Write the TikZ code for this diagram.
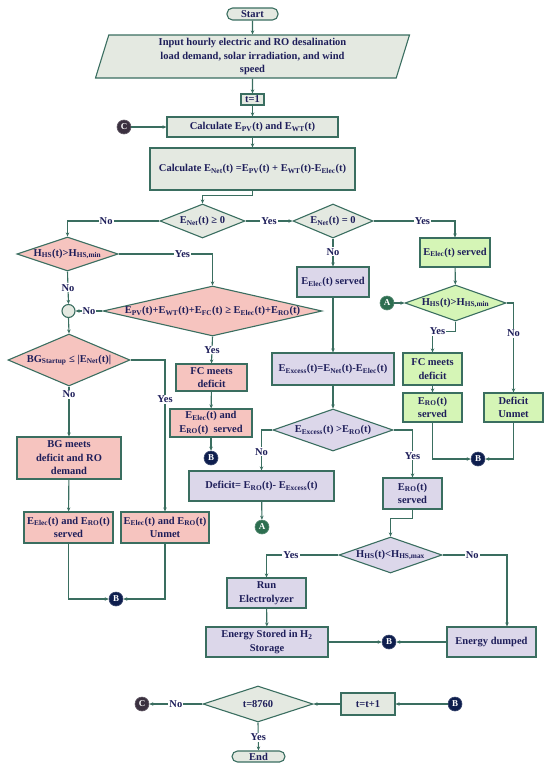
\documentclass[tikz,border=0pt]{standalone}
\usepackage{fontspec}
\setmainfont{Liberation Serif}
\usetikzlibrary{shapes.geometric,shapes.misc,arrows.meta}
\definecolor{ln}{HTML}{3A6E60}
\definecolor{txt}{HTML}{1E1E5A}
\definecolor{fgray}{HTML}{E4E9E1}
\definecolor{fpink}{HTML}{F6C4BF}
\definecolor{flav}{HTML}{DCD7EA}
\definecolor{fgreen}{HTML}{D5F5B6}
\definecolor{cB}{HTML}{0E1E4E}
\definecolor{cA}{HTML}{2D6E50}
\definecolor{cC}{HTML}{3B3140}
\newcommand\lo[1]{\textsubscript{#1}}
\newcommand\zb[1]{\makebox[0pt]{#1}}
\begin{document}
\begin{tikzpicture}[x=1pt,y=-1pt,
  every node/.style={font=\fontsize{10.5}{13.5}\selectfont\bfseries, text=txt},
  wh/.style 2 args={minimum width=#1pt, minimum height=#2pt},
  box/.style={draw=ln, line width=1.1pt, rectangle, align=center, inner sep=1pt},
  dia/.style={diamond, draw=ln, line width=1.1pt, inner sep=0pt},
  term/.style={draw=ln, line width=1.1pt, rounded corners=5.5pt, inner sep=0pt, fill=fgray},
  conn/.style={circle, fill=#1, draw=#1!80!white, line width=0.6pt, text=white, inner sep=0pt, minimum size=14pt, font=\fontsize{9}{9}\selectfont\bfseries},
  lab/.style={fill=white, inner sep=1pt},
  ar/.style={draw=ln, line width=1.1pt, -{Stealth[length=4pt,width=3.5pt]}},
  li/.style={draw=ln, line width=1.1pt}
]
\useasboundingbox (0,0) rectangle (550,771);
% top
\node[term, wh={51}{12}] (start) at (252.5,14) {Start};
\node[trapezium, trapezium left angle=70, trapezium right angle=110, trapezium stretches body, draw=ln, line width=1.1pt, fill=fgray, wh={314}{43}, align=center, inner sep=0pt] (inp) at (252.5,56.5) {Input hourly electric and RO desalination\\load demand, solar irradiation, and wind\\speed};
\node[box, fill=fgray, wh={23}{11}] (t1) at (252.5,99.5) {t=1};
\node[box, fill=fgray, wh={171}{20}] (calc1) at (252.5,127) {Calculate E\lo{PV}(t) and E\lo{WT}(t)};
\node[box, fill=fgray, wh={205}{42}] (calc2) at (252.5,169) {Calculate E\lo{Net}(t) =E\lo{PV}(t) + E\lo{WT}(t)-E\lo{Elec}(t)};
\node[conn=cC] (C1) at (124,127) {C};
% decisions row
\node[dia, fill=fgray, wh={85}{34}] (d1) at (202.5,221) {\zb{E\lo{Net}(t) ≥ 0}};
\node[dia, fill=fgray, wh={80}{34}] (d2) at (333,221) {\zb{E\lo{Net}(t) = 0}};
% left pink
\node[dia, fill=fpink, wh={101}{34}] (d3) at (67.5,254) {\zb{H\lo{HS}(t)>H\lo{HS,min}}};
\node[dia, fill=fpink, wh={219}{50}] (d4) at (212.5,311) {\zb{E\lo{PV}(t)+E\lo{WT}(t)+E\lo{FC}(t) ≥ E\lo{Elec}(t)+E\lo{RO}(t)}};
\node[circle, draw=ln, line width=1.1pt, fill=fgray, minimum size=13pt, inner sep=0pt] (jn) at (68.5,311) {};
\node[dia, fill=fpink, wh={122}{52}] (d5) at (69,360) {\zb{BG\lo{Startup} ≤ |E\lo{Net}(t)|}};
\node[box, fill=fpink, wh={104}{42}] (bg) at (69,458) {BG meets\\deficit and RO\\demand};
\node[box, fill=fpink, wh={89}{31}] (srv) at (68.5,527.5) {E\lo{Elec}(t) and E\lo{RO}(t)\\served};
\node[box, fill=fpink, wh={88}{31}] (unm) at (165,527.5) {E\lo{Elec}(t) and E\lo{RO}(t)\\Unmet};
\node[conn=cB] (B1) at (116,599) {B};
\node[box, fill=fpink, wh={71}{27}] (fc1) at (211.5,377.5) {FC meets\\deficit};
\node[box, fill=fpink, wh={82}{28}] (srv2) at (211,423) {E\lo{Elec}(t) and\\E\lo{RO}(t)~ served};
\node[conn=cB] (B2) at (211,458) {B};
% middle lavender
\node[box, fill=flav, wh={72}{30}] (el) at (333,282) {E\lo{Elec}(t) served};
\node[box, fill=flav, wh={122}{32}] (ex) at (333,369) {E\lo{Excess}(t)=E\lo{Net}(t)-E\lo{Elec}(t)};
\node[dia, fill=flav, wh={120}{42}] (d6) at (333,430) {\zb{E\lo{Excess}(t) >E\lo{RO}(t)}};
\node[box, fill=flav, wh={145}{30}] (def) at (261.5,486) {Deficit= E\lo{RO}(t)- E\lo{Excess}(t)};
\node[conn=cA] (A1) at (262,527) {A};
\node[box, fill=flav, wh={59}{31}] (ro) at (412.5,493.5) {E\lo{RO}(t)\\served};
\node[dia, fill=flav, wh={103}{36}] (d7) at (390.5,555) {\zb{H\lo{HS}(t)<H\lo{HS,max}}};
\node[box, fill=flav, wh={79}{30}] (run) at (266.5,593) {Run\\Electrolyzer};
\node[box, fill=flav, wh={122}{30}] (sto) at (267,642) {Energy Stored in H\lo{2}\\Storage};
\node[box, fill=flav, wh={89}{30}] (dmp) at (491.5,642) {Energy dumped};
\node[conn=cB] (B3) at (389,642) {B};
% right green
\node[box, fill=fgreen, wh={70}{29}] (gel) at (455,252.5) {E\lo{Elec}(t) served};
\node[dia, fill=fgreen, wh={101}{36}] (d8) at (455.5,303) {\zb{H\lo{HS}(t)>H\lo{HS,min}}};
\node[conn=cA] (A2) at (387,303) {A};
\node[box, fill=fgreen, wh={59}{32}] (gfc) at (432.5,369) {FC meets\\deficit};
\node[box, fill=fgreen, wh={59}{29}] (gro) at (432.5,407.5) {E\lo{RO}(t)\\served};
\node[box, fill=fgreen, wh={59}{29}] (gdu) at (513.5,407.5) {Deficit\\Unmet};
\node[conn=cB] (B4) at (478,459) {B};
% bottom
\node[dia, fill=fgray, wh={110}{36}] (d9) at (258,704) {\zb{t=8760}};
\node[box, fill=fgray, wh={54}{22}] (inc) at (368,704) {t=t+1};
\node[conn=cB] (B5) at (455,704) {B};
\node[conn=cC] (C2) at (142,704) {C};
\node[term, wh={53}{11}] (endn) at (258.5,756.5) {End};

% connectors
\draw[ar] (start) -- (inp);
\draw[ar] (inp) -- (t1);
\draw[ar] (t1) -- (calc1);
\draw[ar] (calc1) -- (calc2);
\draw[ar] (C1) -- (calc1);
\draw[ar] (calc2.south) -- ++(0,5) -| (d1.north);
\draw[ar] (d1.west) -| node[lab,pos=0.29] (l1) {No} (d3.north);
\draw[ar] (d1.east) -- node[lab,pos=0.5] (l2) {Yes} (d2.west);
\draw[ar] (d3.east) -| node[lab,pos=0.34] (l3) {Yes} (d4.north);
\draw[ar] (d3.south) -- node[lab,pos=0.5] (l4) {No} (jn.north);
\draw[ar] (d4.west) -- node[lab,pos=0.5] (l5) {No} (jn.east);
\draw[ar] (d4.south) -- node[lab,pos=0.5] (l6) {Yes} (fc1.north);
\draw[ar] (jn.south) -- (d5.north);
\draw[ar] (d5.south) -- node[lab,pos=0.15] (l7) {No} (bg.north);
\draw[ar] (d5.east) -| node[lab,pos=0.63] (l8) {Yes} (unm.north);
\draw[ar] (bg) -- (srv);
\draw[ar] (srv.south) |- (B1.west);
\draw[ar] (unm.south) |- (B1.east);
\draw[ar] (fc1) -- (srv2);
\draw[ar] (srv2) -- (B2);
\draw[ar] (d2.east) -| node[lab,pos=0.3] (l9) {Yes} (gel.north);
\draw[ar] (d2.south) -- node[lab,pos=0.48] (l10) {No} (el.north);
\draw[ar] (el) -- (ex);
\draw[ar] (ex) -- (d6);
\draw[ar] (d6.west) -| node[lab,pos=0.77] (l11) {No} (def.north);
\draw[ar] (def) -- (A1);
\draw[ar] (d6.east) -| node[lab,pos=0.77] (l12) {Yes} (ro.north);
\draw[ar] (ro.south) -- ++(0,9) -| (d7.north);
\draw[ar] (d7.west) -| node[lab,pos=0.33] (l13) {Yes} (run.north);
\draw[ar] (d7.east) -| node[lab,pos=0.23] (l14) {No} ([xshift=15.5pt]dmp.north);
\draw[ar] (run) -- (sto);
\draw[ar] (sto.east) -- (B3.west);
\draw[ar] (dmp.west) -- (B3.east);
\draw[ar] (gel) -- (d8);
\draw[ar] (A2) -- (d8.west);
\draw[ar] (d8.south) -- ++(0,10) -| node[lab,pos=0.39] (l15) {Yes} (gfc.north);
\draw[ar] (d8.east) -| node[lab,pos=0.67] (l16) {No} (gdu.north);
\draw[ar] (gfc) -- (gro);
\draw[ar] (gro.south) |- (B4.west);
\draw[ar] (gdu.south) |- (B4.east);
\draw[ar] (B5) -- (inc);
\draw[ar] (inc) -- (d9.east);
\draw[ar] (d9.west) -- node[lab,pos=0.5] (l17) {No} (C2);
\draw[ar] (d9.south) -- node[lab,pos=0.52] (l18) {Yes} (endn.north);
\end{tikzpicture}
\end{document}
